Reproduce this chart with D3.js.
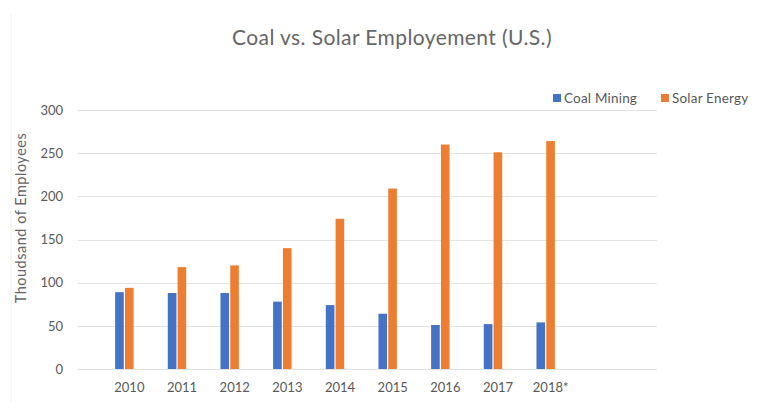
<!DOCTYPE html>
<html><head><meta charset="utf-8">
<script src="https://cdn.jsdelivr.net/npm/d3@7"></script>
<style>body{margin:0;background:#fff}svg{display:block}text{font-family:Lato,"Open Sans",sans-serif;fill:#595959}</style>
</head><body>
<script>
const categories = ["2010","2011","2012","2013","2014","2015","2016","2017","2018*"];
const coalMining = [89, 88, 88, 78, 74, 64, 51, 52, 54];
const solarEnergy = [94, 118, 120, 140, 174, 209, 260, 251, 264];
const seriesNames = ["Coal Mining", "Solar Energy"];
const seriesColors = ["#4472C4", "#ED7D31"];
const yTicks = [0, 50, 100, 150, 200, 250, 300];

const W = 760, H = 410;
const svg = d3.select("body").append("svg").attr("width", W).attr("height", H);

// faint chart border
svg.append("line").attr("x1", 11).attr("x2", 11).attr("y1", 14).attr("y2", 402)
  .attr("stroke", "#f2f2f2").attr("stroke-width", 1);

const gridL = 78, gridR = 657;
const y = d3.scaleLinear().domain([0, 300]).range([369, 110]);
const x = d3.scaleBand().domain(categories).range([98, 572]).paddingInner(0).paddingOuter(0);
const xs = d3.scaleBand().domain(seriesNames).range([0, x.bandwidth()]).paddingInner(0.12).paddingOuter(1.75);

// gridlines
svg.append("g").selectAll("line").data(yTicks).join("line")
  .attr("x1", gridL).attr("x2", gridR)
  .attr("y1", d => Math.round(y(d)) + 0.5).attr("y2", d => Math.round(y(d)) + 0.5)
  .attr("stroke", "#e3e3e3").attr("stroke-width", 1.2);

// y axis labels
const yAxis = d3.axisLeft(y).tickValues(yTicks).tickSize(0).tickPadding(0);
const ya = svg.append("g").attr("transform", "translate(63,0)").call(yAxis);
ya.select(".domain").remove();
ya.selectAll("text").style("font-size", "13px").attr("fill", "#595959").attr("font-family", "Lato, sans-serif");

// x axis labels
const xAxis = d3.axisBottom(x).tickSize(0).tickPadding(0);
const xa = svg.append("g").attr("transform", "translate(5,383)").call(xAxis);
xa.select(".domain").remove();
xa.selectAll("text").style("font-size", "13px").attr("fill", "#595959").attr("font-family", "Lato, sans-serif");

// bars
const data = categories.map((c, i) => ({c, vals: [coalMining[i], solarEnergy[i]]}));
const groups = svg.append("g").selectAll("g").data(data).join("g")
  .attr("transform", d => `translate(${x(d.c)},0)`);
groups.selectAll("rect").data(d => d.vals.map((v, j) => ({name: seriesNames[j], v, j}))).join("rect")
  .attr("x", d => xs(d.name))
  .attr("width", xs.bandwidth())
  .attr("y", d => y(d.v))
  .attr("height", d => y(0) - y(d.v))
  .attr("fill", d => seriesColors[d.j]);

// title
svg.append("text").attr("x", 392).attr("y", 45).attr("text-anchor", "middle")
  .style("font-size", "21px").style("letter-spacing", "0.4px").style("fill", "#666")
  .text("Coal vs. Solar Employement (U.S.)");

// y axis title
svg.append("text").attr("transform", "translate(26,218) rotate(-90)").attr("text-anchor", "middle")
  .style("font-size", "14.5px").style("letter-spacing", "0.5px").style("fill", "#666")
  .text("Thoudsand of Employees");

// legend
const legX = [553, 661];
const leg = svg.append("g").selectAll("g").data(seriesNames).join("g")
  .attr("transform", (d, i) => `translate(${legX[i]},98)`);
leg.append("rect").attr("x", 0).attr("y", -4).attr("width", 8).attr("height", 8)
  .attr("fill", (d, i) => seriesColors[i]);
leg.append("text").attr("x", 11).attr("y", 5).style("font-size", "13.5px").style("letter-spacing", "0.2px")
  .text(d => d);
</script>
</body></html>
